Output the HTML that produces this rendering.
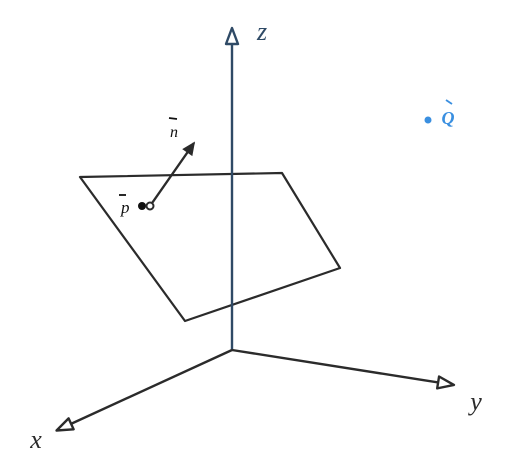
<!DOCTYPE html>
<html><head><meta charset="utf-8">
<style>
html,body{margin:0;padding:0;background:#fff;width:515px;height:474px;overflow:hidden}
svg{display:block}
text{font-family:"Liberation Serif",serif;font-style:italic}
</style></head>
<body>
<svg id="s" width="515" height="474" viewBox="0 0 515 474" xmlns="http://www.w3.org/2000/svg"></svg>
<script>
const origin=[232,350];
const axisEnds=[[232,34],[62,428],[448,384]];
const axisNames=["z-axis","x-axis","y-axis"];
const axisLabels=["z","x","y"];
const labelPos=[[262,40],[36,448],[476,410]];
const planeCorners=[[80,177],[282,173],[340,268],[185,321]];
const pointP=[150,206];
const normalTip=[194,143];
const pointQ=[428,120];
const NS="http://www.w3.org/2000/svg";
const s=document.getElementById('s');
function mk(t,a,name){const e=document.createElementNS(NS,t);for(const k in a)e.setAttribute(k,a[k]);


s.appendChild(e);return e;}
const stroke="#2b2b2b";
// plane
mk('polygon',{points:planeCorners.map(p=>p.join(',')).join(' '),fill:'none',stroke:stroke,'stroke-width':2.2,'stroke-linejoin':'round'},'plane');
// axes
axisEnds.forEach((e,i)=>{
 const col=i===0?'#2f4a66':stroke;
 mk('line',{x1:origin[0],y1:origin[1],x2:e[0],y2:e[1],stroke:col,'stroke-width':2.4},axisNames[i]);
 const dx=e[0]-origin[0],dy=e[1]-origin[1],L=Math.hypot(dx,dy),ux=dx/L,uy=dy/L,px=-uy,py=ux;
 const tip=[e[0]+ux*6,e[1]+uy*6],b=[e[0]-ux*10,e[1]-uy*10];
 mk('polygon',{points:`${tip[0]},${tip[1]} ${b[0]+px*6},${b[1]+py*6} ${b[0]-px*6},${b[1]-py*6}`,fill:'#fff',stroke:col,'stroke-width':2.4,'stroke-linejoin':'round'},axisNames[i]+'-arrow');
 const t=mk('text',{x:labelPos[i][0],y:labelPos[i][1],'font-size':26,fill:col,'text-anchor':'middle'},axisNames[i]+'-label');
 t.textContent=axisLabels[i];
});
// normal vector
mk('line',{x1:pointP[0],y1:pointP[1],x2:normalTip[0],y2:normalTip[1],stroke:stroke,'stroke-width':2.4},'normal-vector');
{const dx=normalTip[0]-pointP[0],dy=normalTip[1]-pointP[1],L=Math.hypot(dx,dy),ux=dx/L,uy=dy/L,px=-uy,py=ux;
 const b=[normalTip[0]-ux*11,normalTip[1]-uy*11];
 mk('polygon',{points:`${normalTip[0]},${normalTip[1]} ${b[0]+px*5},${b[1]+py*5} ${b[0]-px*5},${b[1]-py*5}`,fill:stroke,stroke:stroke,'stroke-width':1.5},'normal-arrowhead');}
mk('circle',{cx:pointP[0]-8,cy:pointP[1],r:4,fill:'#111'},'point-p-dot');
mk('circle',{cx:pointP[0],cy:pointP[1],r:3.5,fill:'#fff',stroke:stroke,'stroke-width':2},'point-p-circle');
let t=mk('text',{x:pointP[0]-29,y:pointP[1]+7,'font-size':17,fill:'#111'},'p-label');t.textContent='p';
mk('line',{x1:pointP[0]-31,y1:pointP[1]-11,x2:pointP[0]-24,y2:pointP[1]-11,stroke:'#111','stroke-width':1.8},'p-arrow');
t=mk('text',{x:normalTip[0]-24,y:normalTip[1]-6,'font-size':16,fill:'#111'},'n-label');t.textContent='n';
mk('line',{x1:normalTip[0]-25,y1:normalTip[1]-25,x2:normalTip[0]-17,y2:normalTip[1]-24,stroke:'#111','stroke-width':1.8},'n-arrow');
// Q
mk('circle',{cx:pointQ[0],cy:pointQ[1],r:3.5,fill:'#3a8fe0'},'point-q');
t=mk('text',{x:pointQ[0]+20,y:pointQ[1]+4,'font-size':18,fill:'#3a8fe0','text-anchor':'middle','font-weight':'bold'},'q-label');t.textContent='Q';
mk('line',{x1:pointQ[0]+18,y1:pointQ[1]-20,x2:pointQ[0]+24,y2:pointQ[1]-16,stroke:'#3a8fe0','stroke-width':1.8},'q-arrow');
</script>
</body></html>
